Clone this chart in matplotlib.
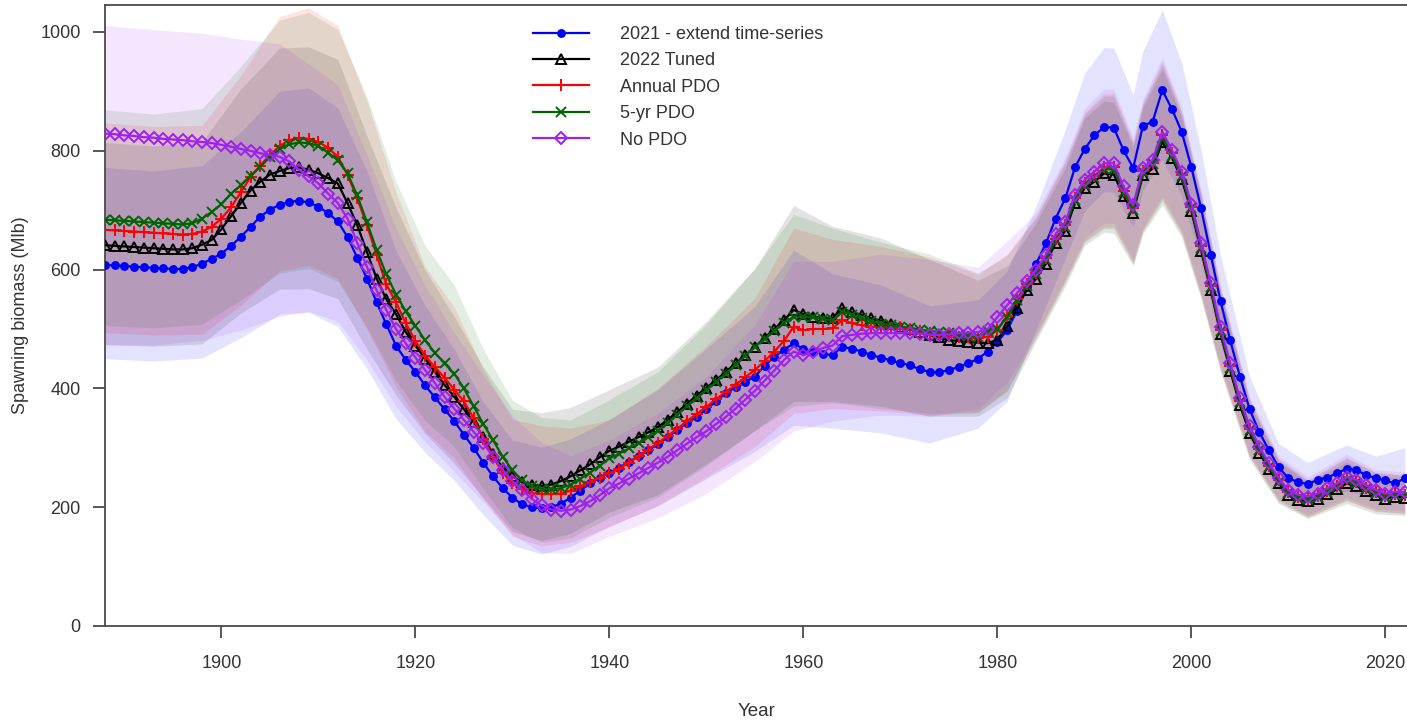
from __future__ import annotations

import matplotlib as mpl
import matplotlib.pyplot as plt
import numpy as np

# %%
INK = "#333333"
AXIS = "#4a4a4a"

YEARS = np.arange(1888, 2023)

EXTEND_2021 = [
    608, 607, 606, 605, 604, 603, 602, 601, 601, 604, 610, 618,
    627, 640, 655, 672, 689, 701, 709, 714, 716, 713,
    706, 695, 681, 655, 620, 585, 545, 508, 472, 448,
    428, 405, 385, 365, 345, 322, 300, 275, 252, 232,
    216, 205, 200, 198, 200, 206, 216, 228, 240, 250,
    258, 266, 276, 286, 296, 306, 318, 330, 342, 352,
    365, 378, 392, 402, 411, 420, 438, 453, 465, 476,
    466, 462, 458, 456, 470, 467, 462, 456, 452, 447,
    443, 439, 432, 428, 427, 431, 436, 442, 450, 462,
    478, 498, 530, 570, 610, 644, 686, 720, 772, 803,
    826, 840, 839, 801, 771, 842, 849, 902, 870, 832,
    772, 703, 625, 547, 481, 420, 365, 326, 296, 267,
    249, 242, 239, 246, 250, 257, 265, 263, 254, 249,
    245, 240, 249,
]
TUNED_2022 = [
    641, 640, 639, 638, 637, 636, 635, 634, 634, 636, 642, 650,
    668, 690, 712, 733, 748, 760, 766, 771, 772, 768,
    762, 754, 745, 712, 675, 630, 585, 550, 525, 495,
    472, 450, 428, 406, 386, 365, 343, 318, 290, 266,
    252, 242, 237, 236, 238, 244, 252, 262, 272, 284,
    295, 302, 310, 318, 326, 335, 347, 360, 374, 388,
    401, 414, 428, 442, 456, 470, 485, 500, 515, 532,
    525, 521, 519, 518, 535, 528, 524, 518, 514, 509,
    504, 500, 495, 490, 486, 481, 480, 478, 477, 476,
    482, 505, 535, 565, 585, 610, 645, 665, 712, 737,
    748, 762, 760, 724, 696, 759, 770, 815, 788, 752,
    698, 632, 565, 492, 430, 372, 325, 292, 264, 240,
    220, 212, 210, 214, 222, 230, 240, 236, 228, 220,
    214, 218, 216,
]
ANNUAL_PDO = [
    667, 666, 665, 664, 663, 662, 661, 660, 659, 660, 664, 672,
    686, 705, 730, 756, 775, 793, 808, 818, 822, 820,
    815, 805, 790, 760, 720, 675, 625, 575, 545, 510,
    480, 455, 436, 418, 398, 378, 350, 315, 285, 258,
    240, 230, 224, 222, 222, 223, 228, 235, 243, 250,
    257, 265, 275, 286, 297, 308, 320, 332, 345, 357,
    369, 382, 394, 406, 419, 431, 446, 462, 480, 504,
    498, 500, 500, 501, 515, 510, 506, 504, 503, 502,
    501, 499, 496, 493, 490, 488, 487, 486, 485, 487,
    498, 522, 550, 575, 595, 620, 652, 675, 720, 745,
    758, 772, 772, 733, 703, 766, 780, 826, 796, 760,
    705, 639, 572, 498, 437, 378, 331, 298, 270, 245,
    225, 217, 214, 219, 228, 236, 247, 242, 233, 225,
    219, 222, 221,
]
FIVE_YR_PDO = [
    684, 683, 682, 681, 680, 679, 678, 677, 676, 678, 686, 697,
    710, 728, 742, 758, 773, 790, 803, 811, 814, 813,
    808, 797, 784, 762, 725, 680, 633, 592, 558, 530,
    505, 481, 460, 442, 425, 400, 370, 340, 313, 285,
    262, 245, 235, 231, 230, 232, 238, 248, 258, 270,
    282, 290, 299, 308, 318, 329, 342, 356, 370, 384,
    397, 411, 425, 440, 455, 470, 484, 497, 510, 521,
    521, 520, 517, 515, 529, 524, 518, 513, 509, 506,
    504, 502, 499, 497, 495, 493, 490, 488, 487, 497,
    500, 520, 548, 572, 592, 617, 650, 672, 718, 742,
    755, 769, 769, 731, 700, 764, 777, 822, 792, 757,
    703, 637, 570, 496, 435, 377, 330, 296, 268, 243,
    224, 216, 213, 218, 226, 234, 245, 240, 231, 224,
    218, 221, 220,
]
NO_PDO = [
    829, 828, 826, 825, 823, 822, 820, 819, 818, 816, 815, 813,
    810, 807, 803, 800, 796, 793, 790, 782, 768, 757,
    745, 728, 712, 686, 645, 605, 565, 532, 500, 476,
    452, 431, 409, 386, 366, 347, 327, 308, 285, 263,
    244, 229, 214, 203, 196, 194, 196, 202, 210, 220,
    232, 240, 248, 257, 266, 275, 285, 296, 307, 318,
    328, 340, 352, 366, 381, 396, 413, 430, 448, 462,
    456, 462, 468, 472, 488, 490, 492, 493, 493, 493,
    493, 493, 492, 490, 490, 491, 493, 494, 495, 500,
    520, 540, 560, 580, 600, 625, 660, 680, 726, 751,
    765, 779, 779, 740, 709, 771, 785, 832, 801, 765,
    711, 644, 577, 503, 442, 383, 336, 302, 274, 249,
    229, 221, 218, 223, 232, 240, 251, 246, 237, 229,
    223, 226, 225,
]

# uncertainty intervals, read at fewer years
BAND_YEARS = [
    1888, 1893, 1898, 1902, 1906, 1909, 1912, 1915, 1918, 1921, 1924, 1927, 1930, 1933,
    1936, 1940, 1945, 1950, 1955, 1959, 1963, 1968, 1973, 1978, 1981, 1984, 1987, 1989,
    1991, 1992, 1994, 1995, 1997, 1999, 2001, 2003, 2006, 2009, 2012, 2016, 2019, 2022,
]
EXTEND_2021_LO = [
    450, 446, 451, 485, 525, 528, 504, 433, 349, 292, 245, 187, 136, 121,
    134, 168, 202, 248, 294, 338, 333, 325, 308, 333, 378, 500, 619, 699,
    731, 730, 671, 733, 785, 724, 612, 476, 314, 230, 206, 228, 214, 214,
]
EXTEND_2021_HI = [
    772, 766, 775, 832, 900, 906, 872, 766, 632, 539, 466, 377, 313, 301,
    315, 348, 398, 467, 538, 633, 593, 574, 539, 549, 598, 708, 835, 931,
    974, 973, 894, 968, 1037, 948, 801, 624, 420, 307, 275, 305, 286, 300,
]
TUNED_2022_LO = [
    474, 471, 475, 527, 567, 568, 551, 466, 389, 324, 274, 216, 159, 144,
    156, 192, 221, 273, 329, 378, 378, 370, 353, 353, 384, 480, 572, 641,
    663, 661, 606, 660, 709, 654, 550, 428, 280, 206, 181, 206, 189, 186,
]
TUNED_2022_HI = [
    814, 808, 815, 904, 973, 975, 954, 825, 704, 599, 521, 436, 365, 359,
    368, 398, 436, 513, 602, 708, 673, 653, 617, 582, 606, 679, 771, 855,
    884, 882, 807, 873, 937, 857, 720, 561, 374, 276, 242, 276, 253, 248,
]
ANNUAL_PDO_LO = [
    494, 490, 491, 540, 598, 607, 585, 500, 403, 328, 283, 214, 151, 135,
    141, 167, 203, 251, 302, 358, 366, 362, 355, 359, 397, 488, 581, 648,
    672, 672, 612, 666, 719, 661, 556, 433, 285, 211, 184, 212, 194, 190,
]
ANNUAL_PDO_HI = [
    847, 841, 843, 927, 1026, 1041, 1011, 884, 730, 605, 537, 432, 348, 337,
    333, 347, 400, 472, 552, 670, 651, 639, 621, 592, 626, 690, 783, 864,
    896, 896, 815, 881, 950, 866, 728, 568, 381, 282, 246, 284, 259, 254,
]
FIVE_YR_PDO_LO = [
    506, 502, 508, 549, 594, 602, 580, 503, 413, 346, 302, 231, 165, 141,
    148, 183, 217, 270, 329, 370, 376, 366, 358, 360, 395, 485, 578, 646,
    669, 669, 609, 665, 715, 659, 554, 432, 284, 209, 183, 211, 193, 189,
]
FIVE_YR_PDO_HI = [
    869, 862, 871, 942, 1020, 1033, 1004, 891, 748, 640, 574, 466, 380, 351,
    347, 381, 428, 508, 602, 693, 670, 646, 626, 594, 624, 687, 780, 861,
    892, 892, 812, 879, 945, 863, 726, 565, 380, 279, 245, 282, 258, 253,
]
NO_PDO_LO = [
    473, 473, 481, 498, 521, 530, 513, 448, 370, 310, 260, 209, 154, 124,
    122, 151, 182, 223, 277, 328, 345, 355, 353, 366, 410, 492, 585, 653,
    678, 678, 617, 671, 724, 666, 560, 438, 289, 214, 187, 216, 197, 194,
]
NO_PDO_HI = [
    1011, 1004, 998, 988, 980, 946, 911, 793, 670, 573, 494, 422, 354, 309,
    286, 313, 358, 420, 507, 614, 614, 626, 617, 604, 648, 696, 789, 871,
    904, 904, 822, 887, 957, 872, 734, 573, 386, 286, 251, 289, 263, 259,
]

SERIES = [
    ("2021 - extend time-series", EXTEND_2021, EXTEND_2021_LO, EXTEND_2021_HI, "#0000ff",
     dict(marker="o", markersize=5, markerfacecolor="#0000ff")),
    ("2022 Tuned", TUNED_2022, TUNED_2022_LO, TUNED_2022_HI, "#000000",
     dict(marker="^", markersize=6.5, markerfacecolor="none")),
    ("Annual PDO", ANNUAL_PDO, ANNUAL_PDO_LO, ANNUAL_PDO_HI, "#ff0000",
     dict(marker="+", markersize=9)),
    ("5-yr PDO", FIVE_YR_PDO, FIVE_YR_PDO_LO, FIVE_YR_PDO_HI, "#006400",
     dict(marker="x", markersize=6.5)),
    ("No PDO", NO_PDO, NO_PDO_LO, NO_PDO_HI, "#a020f0",
     dict(marker="D", markersize=6.5, markerfacecolor="none")),
]

# %%
def apply_theme() -> None:
    mpl.rcParams.update(
        {
            "font.family": ["Liberation Sans", "DejaVu Sans"],
            "text.color": INK,
            "xtick.color": AXIS,
            "ytick.color": AXIS,
            "xtick.labelcolor": INK,
            "ytick.labelcolor": INK,
        }
    )


def main() -> None:
    apply_theme()
    W, H = 1407, 722
    fig = plt.figure(figsize=(W / 100, H / 100), dpi=100)
    ax = fig.add_axes([105 / W, 96 / H, 1330 / W, 621 / H])

    for label, values, lo, hi, color, style in SERIES:
        ax.fill_between(BAND_YEARS, lo, hi, color=color, alpha=0.11, linewidth=0, zorder=1)

    for label, values, lo, hi, color, style in SERIES:
        ax.plot(YEARS, values, color=color, linewidth=1.6, markeredgecolor=color,
                markeredgewidth=1.4, label=label, zorder=3, **style)

    ax.set_xlim(1888, 1888 + 1330 / 9.7)
    ax.set_ylim(0, 621 / 0.594)
    ax.set_xticks(range(1900, 2021, 20))
    ax.set_yticks(range(0, 1001, 200))
    ax.tick_params(axis="both", direction="out", length=8.6, width=1.3, labelsize=13)
    ax.tick_params(axis="x", pad=12)
    ax.tick_params(axis="y", pad=9)
    for side in ax.spines.values():
        side.set_color(AXIS)
        side.set_linewidth(1.3)

    ax.legend(loc="upper left", bbox_to_anchor=(533 / W, 1 - 26 / H), bbox_transform=fig.transFigure,
              frameon=False, fontsize=13, numpoints=1, handlelength=3.1, handletextpad=1.72,
              labelspacing=0.52, borderpad=0, borderaxespad=0)

    fig.text(21 / W, 1 - 315 / H, "Spawning biomass (Mlb)", rotation=90, ha="center", va="center", fontsize=13)
    fig.text(757 / W, 1 - 711 / H, "Year", ha="center", va="center", fontsize=13.5)

    fig.savefig("out.png", dpi=100)
    plt.close(fig)


if __name__ == "__main__":
    main()
